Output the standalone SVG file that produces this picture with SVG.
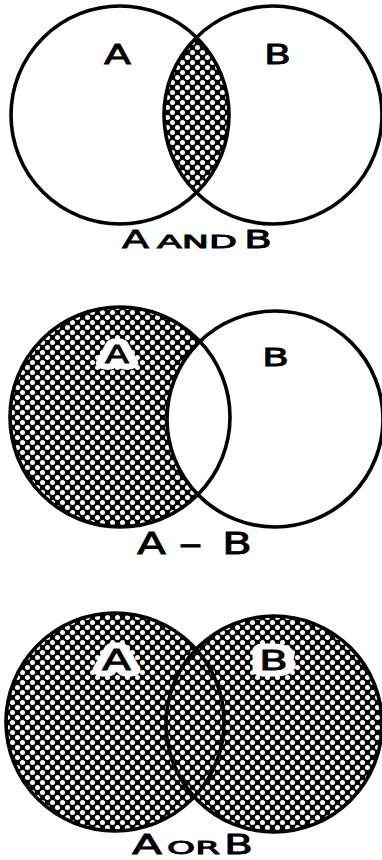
<svg xmlns="http://www.w3.org/2000/svg" width="382" height="860" viewBox="0 0 382 860">
<style>
.ring{fill:none;stroke:#000;stroke-width:3.6}
.lbl{font-family:"DejaVu Sans","Liberation Sans",sans-serif;font-weight:normal;fill:#000;stroke:#000;stroke-width:0.8}
.halo{stroke:#fff;stroke-width:13;stroke-linejoin:round;fill:#fff}
</style>
<defs>
<pattern id="dots" width="10" height="10" patternUnits="userSpaceOnUse">
<rect width="10" height="10" fill="#000"/>
<circle cx="2.5" cy="2.5" r="2.5" fill="#fff"/>
<circle cx="7.5" cy="7.5" r="2.5" fill="#fff"/>
</pattern>
<clipPath id="clipA1"><circle cx="120" cy="115" r="109"/></clipPath>
</defs>
<rect width="382" height="860" fill="#fff"/>

<g id="venn-and">
<circle cx="273" cy="115" r="109" fill="url(#dots)" clip-path="url(#clipA1)"/>
<circle id="and-A" class="ring" cx="120" cy="115" r="109"/>
<circle id="and-B" class="ring" cx="273" cy="115" r="109"/>
<text class="lbl" x="104" y="64" font-size="26" textLength="27" lengthAdjust="spacingAndGlyphs">A</text>
<text class="lbl" x="264" y="64" font-size="26" textLength="27" lengthAdjust="spacingAndGlyphs">B</text>
<g id="cap-and">
<text class="lbl" x="122" y="248" font-size="25" textLength="27" lengthAdjust="spacingAndGlyphs">A</text>
<text class="lbl" x="157" y="248" font-size="17" textLength="80" lengthAdjust="spacingAndGlyphs">AND</text>
<text class="lbl" x="244" y="248" font-size="25" textLength="28" lengthAdjust="spacingAndGlyphs">B</text>
</g>
</g>

<g id="venn-minus">
<circle cx="120" cy="417" r="110" fill="url(#dots)"/>
<circle cx="275" cy="419" r="108" fill="#fff"/>
<circle id="minus-A" class="ring" cx="120" cy="417" r="110"/>
<circle id="minus-B" class="ring" cx="275" cy="419" r="108"/>
<text class="lbl halo" x="105" y="363" font-size="24" textLength="24" lengthAdjust="spacingAndGlyphs">A</text>
<text class="lbl" x="105" y="363" font-size="24" textLength="24" lengthAdjust="spacingAndGlyphs">A</text>
<text class="lbl" x="262" y="366" font-size="25" textLength="27" lengthAdjust="spacingAndGlyphs">B</text>
<g id="cap-minus">
<text class="lbl" x="137" y="554" font-size="30" textLength="29" lengthAdjust="spacingAndGlyphs">A</text>
<text class="lbl" x="178" y="554" font-size="30" textLength="25" lengthAdjust="spacingAndGlyphs">-</text>
<text class="lbl" x="222" y="554" font-size="30" textLength="30" lengthAdjust="spacingAndGlyphs">B</text>
</g>
</g>

<g id="venn-or">
<circle cx="115" cy="722" r="109" fill="url(#dots)"/>
<circle cx="274" cy="724" r="108" fill="url(#dots)"/>
<circle id="or-A" class="ring" cx="115" cy="722" r="109"/>
<circle id="or-B" class="ring" cx="274" cy="724" r="108"/>
<text class="lbl halo" x="102" y="670" font-size="28" textLength="29" lengthAdjust="spacingAndGlyphs">A</text>
<text class="lbl" x="102" y="670" font-size="28" textLength="29" lengthAdjust="spacingAndGlyphs">A</text>
<text class="lbl halo" x="259" y="670" font-size="26" textLength="29" lengthAdjust="spacingAndGlyphs">B</text>
<text class="lbl" x="259" y="670" font-size="26" textLength="29" lengthAdjust="spacingAndGlyphs">B</text>
<g id="cap-or">
<text class="lbl" x="132" y="854" font-size="26" textLength="30" lengthAdjust="spacingAndGlyphs">A</text>
<text class="lbl" x="167" y="854" font-size="17" textLength="53" lengthAdjust="spacingAndGlyphs">OR</text>
<text class="lbl" x="224" y="854" font-size="26" textLength="29" lengthAdjust="spacingAndGlyphs">B</text>
</g>
</g>
</svg>
